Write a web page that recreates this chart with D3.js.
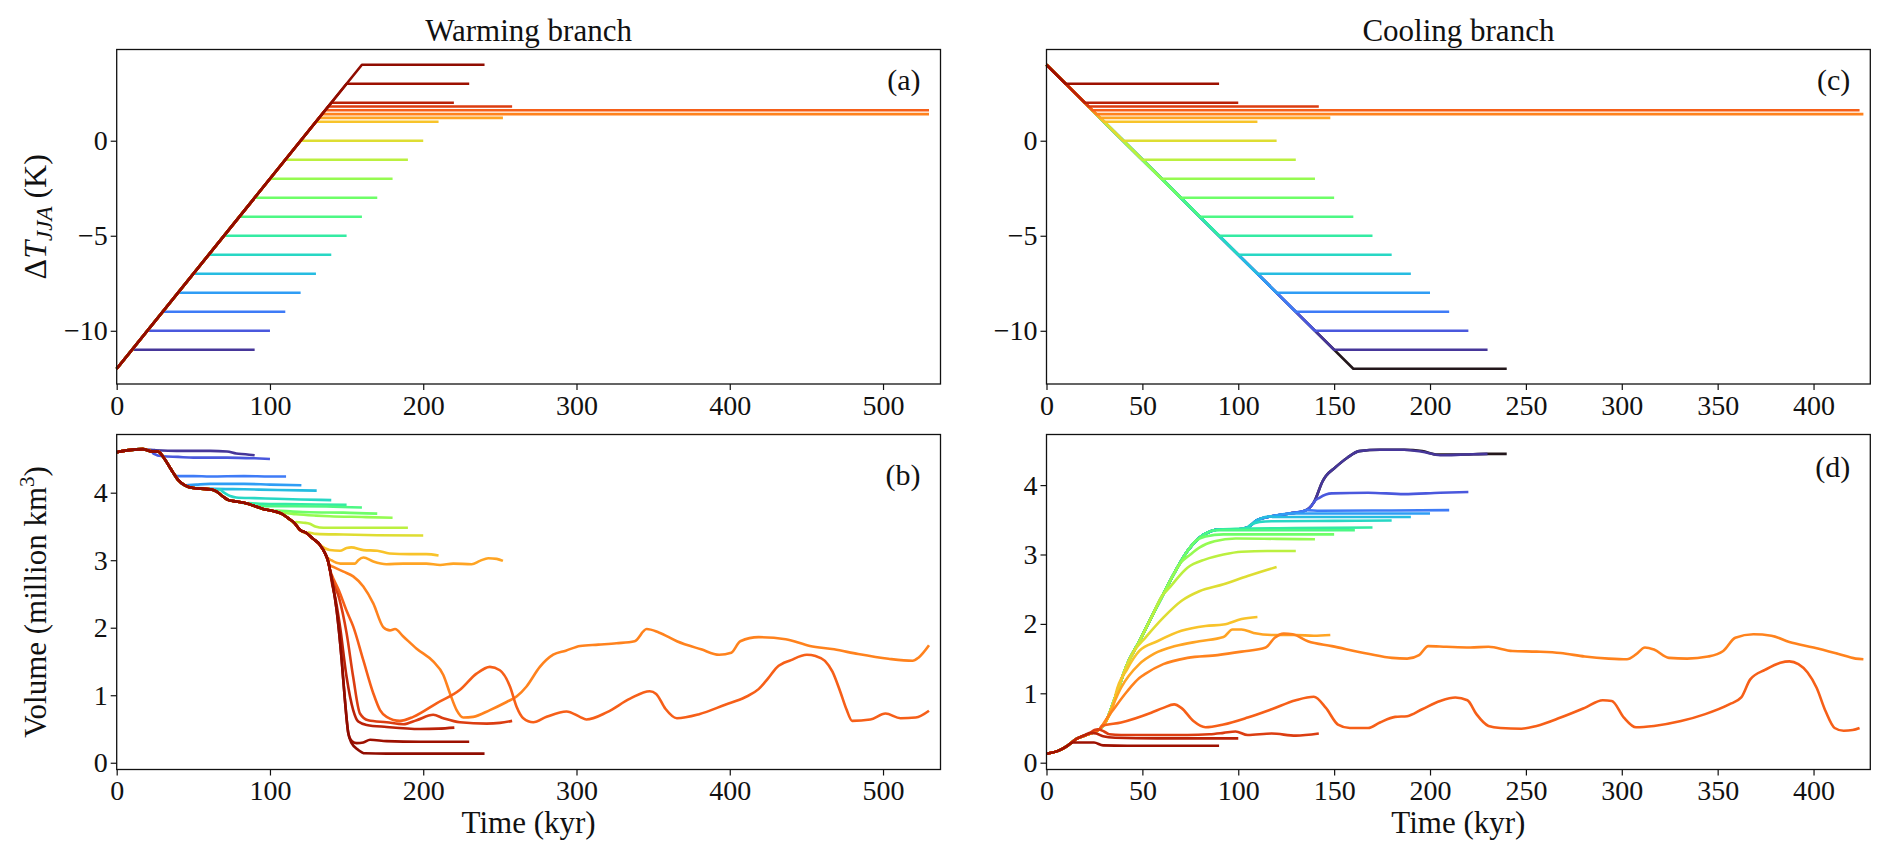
<!DOCTYPE html>
<html>
<head>
<meta charset="utf-8">
<script src="https://cdn.jsdelivr.net/npm/d3@7"></script>
<style>
  body { margin: 0; background: #fff; }
  svg text { font-family: "Liberation Serif", "DejaVu Serif", serif; fill: #111; }
  .tick text { font-size: 28px; }
  .tick line { stroke: #111; stroke-width: 1.2; }
</style>
</head>
<body>
<svg id="chart" width="1892" height="862"></svg>
<script>
// forcing levels (K), start and end of each plateau (kyr)
const warmRamp0 = -12;
const warmLevels = [-11, -10, -9, -8, -7, -6, -5, -4, -3, -2, -1, 0, 1, 1.2, 1.4, 1.6, 1.8, 2, 3, 4];
const warmStart  = [10, 20, 30, 40, 50, 60, 70, 80, 90, 100, 110, 120, 130, 132, 134, 136, 138, 140, 150, 160];
const warmEnd    = [90, 100, 110, 120, 130, 140, 150, 160, 170, 180, 190, 200, 210, 252, 530, 530, 258, 220, 230, 240];

const coolRamp0 = 4;
const coolLevels = [3, 2, 1.8, 1.6, 1.4, 1.2, 1, 0, -1, -2, -3, -4, -5, -6, -7, -8, -9, -10, -11, -12];
const coolStart  = [10, 20, 22, 24, 26, 28, 30, 40, 50, 60, 70, 80, 90, 100, 110, 120, 130, 140, 150, 160];
const coolEnd    = [90, 100, 142, 424, 426, 148, 110, 120, 130, 140, 150, 160, 170, 180, 190, 200, 210, 220, 230, 240];

// every level used for the colour map, low to high
const colorLevels = [-12, -11, -10, -9, -8, -7, -6, -5, -4, -3, -2, -1, 0, 1, 1.2, 1.4, 1.6, 1.8, 2, 3, 4];

// ice volume (million km3): shared path of the warming runs (the +4 K run)
const warmTrunk = [[0,4.60],[8,4.63],[17,4.645],[23,4.61],[27,4.61],[30,4.54],[33.5,4.42],[37,4.29],[40,4.19],
  [44.5,4.11],[50,4.07],[55,4.06],[61,4.05],[65,4.02],[69.5,3.94],[73,3.89],[78,3.87],[85,3.84],[89,3.81],
  [95.5,3.76],[102,3.73],[107.5,3.69],[112,3.62],[116,3.55],[119.5,3.45],[124,3.40],[128,3.32],[132.5,3.23],
  [136,3.10],[138,2.98],[139.2,2.85],[140.5,2.70],[143.5,2.26],[146.8,1.52],[148.9,0.93],[151.1,0.44],
  [153.3,0.29],[157.6,0.19],[162,0.14],[176,0.135],[200,0.135],[240,0.135]];

// where each warming run leaves the shared path, same order as warmLevels
const warmBranch = [
  [[17,4.64],[25,4.63],[39,4.62],[61,4.62],[72,4.61],[78,4.58],[84,4.57],[90,4.555]],
  [[24,4.58],[30,4.54],[40,4.53],[50,4.52],[72,4.52],[90,4.51],[100,4.50]],
  [[39,4.245],[50,4.245],[61,4.24],[83,4.245],[100,4.24],[110.5,4.24]],
  [[45,4.11],[52,4.12],[61,4.13],[83,4.13],[100,4.12],[120.5,4.11]],
  [[52,4.07],[61,4.06],[83,4.05],[105,4.04],[130.5,4.03]],
  [[67,4.05],[70,4.0],[74,3.95],[78,3.93],[90,3.92],[104,3.91],[120,3.90],[140,3.89]],
  [[86,3.845],[95,3.835],[110,3.83],[130,3.825],[150,3.82]],
  [[92,3.80],[100,3.80],[115,3.80],[137,3.795],[160,3.78]],
  [[104,3.735],[115,3.72],[126,3.71],[148,3.705],[170,3.69]],
  [[109,3.70],[117,3.68],[130,3.66],[139,3.65],[160,3.64],[180,3.63]],
  [[117,3.565],[122,3.555],[126,3.54],[129.5,3.50],[135,3.48],[150,3.48],[170,3.48],[190,3.48]],
  [[125,3.41],[130,3.39],[148,3.38],[170,3.37],[200,3.365]],
  [[133,3.22],[139,3.15],[145.7,3.14],[150,3.18],[153,3.19],[161,3.15],[170,3.14],[178,3.10],[191,3.09],[202,3.09],[210,3.07]],
  [[137,3.05],[140,3.0],[146,2.95],[155.5,2.95],[157.6,3.0],[161,3.04],[167.4,2.98],[176,2.94],[187,2.95],[196,2.95],
   [202,2.95],[211,2.93],[219.6,2.95],[231.6,2.94],[237,2.99],[242.4,3.03],[248,3.02],[252,2.99]],
  [[139,2.93],[141.3,2.90],[148,2.83],[154.3,2.76],[160.9,2.61],[167.4,2.36],[173.9,2.01],[178.3,1.96],[181.6,1.98],
   [187,1.87],[195.7,1.69],[206.5,1.50],[213.1,1.30],[217.4,1.03],[221.8,0.78],[226.1,0.67],[232.6,0.68],[243.5,0.78],
   [254.4,0.90],[260.9,0.98],[267.4,1.13],[276.1,1.42],[284.8,1.60],[293,1.66],[302.4,1.73],[314.3,1.75],[326.1,1.77],
   [337.9,1.80],[345.8,1.98],[353.7,1.93],[365.5,1.80],[381.3,1.68],[393.1,1.60],[401,1.63],[406.9,1.80],[418.8,1.86],
   [436.5,1.83],[452.3,1.73],[468.1,1.68],[483.8,1.61],[503.5,1.54],[519.3,1.51],[523.3,1.56],[530,1.74]],
  [[140,2.80],[145,2.55],[150,2.25],[154.3,2.02],[160.9,1.52],[167.4,1.03],[171.8,0.78],[176.1,0.68],[184.8,0.62],
   [193.5,0.68],[208.7,0.88],[224,1.08],[234.8,1.32],[243.5,1.42],[250,1.37],[256.6,1.13],[260.9,0.83],[265.3,0.66],
   [271.8,0.60],[280.5,0.68],[293.5,0.76],[302.2,0.68],[306.4,0.64],[320,0.75],[335,0.95],[347.8,1.06],[352,1.02],
   [358,0.80],[365.5,0.66],[380,0.72],[397,0.86],[410,0.97],[418.8,1.09],[425,1.25],[430.6,1.41],[440,1.52],
   [450.3,1.60],[456,1.58],[462.1,1.51],[467,1.35],[472,1.06],[476,0.80],[479.9,0.62],[491.7,0.64],[501.6,0.73],
   [511.4,0.66],[521.3,0.67],[530,0.77]],
  [[140,2.76],[145,2.45],[150,1.92],[154.3,1.27],[158.7,0.73],[164.1,0.63],[176.1,0.60],[187,0.57],[195.7,0.63],
   [206.5,0.71],[213.1,0.66],[224,0.60],[241.4,0.58],[250,0.59],[258,0.62]],
  [[140,2.72],[143,2.40],[145.7,2.02],[150,1.27],[154.3,0.78],[157.6,0.61],[163.1,0.56],[176.1,0.53],[197.9,0.50],
   [210,0.505],[220.3,0.52]],
  [[152,0.37],[153.5,0.32],[156.6,0.29],[160.9,0.30],[165.3,0.34],[176.1,0.32],[197.9,0.31],[230,0.31]],
  []
];

// shared path of the cooling runs (the -12 K run)
const coolTrunk = [[0,0.13],[6,0.17],[10.7,0.24],[15.4,0.34],[21.7,0.41],[27.9,0.49],[31.1,0.60],[35.8,0.94],
  [42.1,1.42],[48.4,1.75],[54.6,2.09],[60.9,2.43],[67.2,2.76],[73.5,3.05],[79.7,3.24],[86,3.34],[90.7,3.36],
  [98.6,3.36],[104.9,3.39],[109.6,3.49],[117.4,3.55],[126.8,3.59],[134.7,3.63],[139.4,3.75],[144.1,4.06],
  [145.7,4.13],[150.4,4.25],[156.7,4.39],[163,4.49],[173.9,4.51],[186.5,4.51],[195.9,4.49],[203.8,4.44],
  [214.8,4.44],[230.5,4.45],[240,4.45]];

// same order as coolLevels
const coolBranch = [
  [[13.8,0.29],[20.1,0.29],[24.8,0.29],[29.5,0.25],[42.1,0.245],[60,0.245],[90,0.245]],
  [[20,0.40],[23.2,0.43],[26,0.42],[29.5,0.38],[35.8,0.36],[57.8,0.35],[80,0.35],[100,0.35]],
  [[25,0.47],[27,0.48],[30,0.45],[32.7,0.41],[38.9,0.40],[73.5,0.40],[85,0.41],[92.3,0.43],[98.6,0.45],
   [104.9,0.40],[117.4,0.42],[130,0.39],[142,0.42]],
  [[28.9,0.53],[38.9,0.58],[54.6,0.72],[60.9,0.79],[66.6,0.84],[70.3,0.79],[76.6,0.60],[82.9,0.51],[92.3,0.55],
   [104.9,0.65],[117.4,0.77],[130,0.90],[139.4,0.95],[145.7,0.79],[152,0.55],[158.2,0.50],[167.7,0.50],[173.9,0.58],
   [181.8,0.66],[188.1,0.67],[195.9,0.77],[205.3,0.89],[213.2,0.94],[219.5,0.90],[224.2,0.70],[230.5,0.53],
   [236.7,0.50],[247.7,0.49],[255.6,0.53],[268.1,0.65],[280.7,0.79],[290.1,0.90],[294.8,0.89],[301.1,0.65],
   [307.4,0.51],[316.8,0.53],[330.9,0.60],[343.5,0.70],[356,0.84],[362.3,0.94],[367,1.20],[374.9,1.34],
   [382.7,1.44],[387.4,1.46],[392.1,1.42],[396.9,1.30],[401.6,1.08],[406.3,0.74],[411,0.50],[415.7,0.46],
   [420.4,0.47],[424,0.50]],
  [[31,0.62],[34.2,0.74],[42.1,1.03],[48.4,1.22],[51.5,1.28],[60.9,1.42],[73.5,1.51],[89.2,1.55],[101.7,1.60],
   [114.3,1.66],[119,1.80],[123.7,1.86],[128.4,1.85],[136.3,1.75],[148.8,1.68],[167.7,1.57],[180.2,1.51],
   [188.1,1.50],[194.3,1.55],[199.1,1.68],[208.5,1.67],[221,1.66],[230.5,1.67],[243,1.61],[255.6,1.60],
   [268.1,1.58],[280.7,1.53],[293.2,1.50],[302.7,1.49],[307.4,1.56],[312.1,1.66],[316.8,1.63],[324.6,1.51],
   [334.1,1.50],[345,1.53],[352.9,1.61],[359.2,1.80],[368.6,1.85],[378,1.83],[387.4,1.74],[400,1.66],
   [412.6,1.57],[422,1.50],[426,1.49]],
  [[32.7,0.70],[38.9,1.08],[48.4,1.42],[56.2,1.57],[67.2,1.68],[79.7,1.75],[92.3,1.81],[97,1.92],[101.7,1.92],
   [108,1.87],[117.4,1.84],[130,1.84],[139.4,1.83],[148,1.84]],
  [[36,0.98],[42.1,1.35],[48.4,1.61],[57.8,1.75],[70.3,1.90],[82.9,1.97],[92.3,1.99],[101.7,2.07],[110,2.10]],
  [[46,1.62],[51.5,1.80],[60.9,2.09],[70.3,2.33],[79.7,2.47],[92.3,2.57],[104.9,2.69],[120,2.82]],
  [[62,2.46],[64,2.52],[73.5,2.81],[82.9,2.93],[92.3,3.00],[101.7,3.04],[115,3.05],[130,3.05]],
  [[70,2.88],[75,3.0],[79.7,3.10],[87.6,3.19],[98.6,3.23],[120,3.225],[140,3.22]],
  [[78,3.2],[82.9,3.26],[92.3,3.29],[120,3.29],[150,3.29]],
  [[87,3.345],[89.2,3.35],[120,3.35],[160.8,3.35]],
  [[98.6,3.37],[130,3.38],[170,3.39]],
  [[106,3.42],[111.1,3.47],[117.4,3.48],[150,3.485],[180,3.49]],
  [[118,3.54],[121,3.54],[150,3.54],[190,3.54]],
  [[126.8,3.59],[140,3.59],[170,3.59],[200,3.59]],
  [[136,3.64],[142.5,3.63],[180,3.635],[210,3.64]],
  [[139.6,3.76],[142.5,3.82],[148.8,3.88],[167.7,3.89],[186.5,3.87],[205.3,3.89],[220,3.90]],
  [[186.5,4.51],[195.9,4.48],[205.3,4.43],[217.9,4.44],[230,4.45]],
  []
];

const svg = d3.select("#chart");
const colorOf = T => d3.interpolateTurbo(colorLevels.indexOf(T) / (colorLevels.length - 1));

function runSeries(trunk, own) {
  if (!own.length) return trunk;
  const t0 = own[0][0];
  return trunk.filter(d => d[0] < t0).concat(own);
}

function panel(box, xDomain, yDomain, xTicks, yTicks, tag, tagDy) {
  const x = d3.scaleLinear().domain(xDomain).range([box.left, box.right]);
  const y = d3.scaleLinear().domain(yDomain).range([box.bottom, box.top]);
  const g = svg.append("g");
  g.append("g")
    .attr("transform", `translate(0,${box.bottom})`)
    .call(d3.axisBottom(x).tickValues(xTicks).tickFormat(d3.format("d"))
      .tickSize(6).tickPadding(5).tickSizeOuter(0))
    .call(a => a.select(".domain").remove());
  g.append("g")
    .attr("transform", `translate(${box.left},0)`)
    .call(d3.axisLeft(y).tickValues(yTicks).tickFormat(d3.format("d"))
      .tickSize(6).tickPadding(3).tickSizeOuter(0))
    .call(a => a.select(".domain").remove());
  const plot = g.append("g");
  g.append("rect")
    .attr("x", box.left).attr("y", box.top)
    .attr("width", box.right - box.left).attr("height", box.bottom - box.top)
    .attr("fill", "none").attr("stroke", "#111").attr("stroke-width", 1.3);
  g.append("text")
    .attr("x", box.right - 20).attr("y", box.top + tagDy)
    .attr("text-anchor", "end").attr("font-size", 30)
    .text(tag);
  return { x, y, plot };
}

const boxA = { left: 116.7, right: 940.5, top: 49.5, bottom: 384 };
const boxB = { left: 116.7, right: 940.5, top: 434.5, bottom: 769.5 };
const boxC = { left: 1046.5, right: 1870.3, top: 49.5, bottom: 384 };
const boxD = { left: 1046.5, right: 1870.3, top: 434.5, bottom: 769.5 };

const warmTicks = [0, 100, 200, 300, 400, 500];
const coolTicks = [0, 50, 100, 150, 200, 250, 300, 350, 400];
const tempTicks = [-10, -5, 0];
const volTicks = [0, 1, 2, 3, 4];

const pA = panel(boxA, [0, 537.5], [-12.8, 4.8], warmTicks, tempTicks, "(a)", 40);
const pB = panel(boxB, [0, 537.5], [-0.10, 4.862], warmTicks, volTicks, "(b)", 50);
const pC = panel(boxC, [0, 429.6], [-12.8, 4.8], coolTicks, tempTicks, "(c)", 40);
const pD = panel(boxD, [0, 429.6], [-0.098, 4.729], coolTicks, volTicks, "(d)", 42);

function drawRuns(p, levels, starts, ends, ramp0) {
  const line = d3.line().x(d => p.x(d[0])).y(d => p.y(d[1]));
  const order = d3.range(levels.length).sort((a, b) => levels[a] - levels[b]);
  order.forEach(i => {
    p.plot.append("path")
      .attr("d", line([[0, ramp0], [starts[i], levels[i]], [ends[i], levels[i]]]))
      .attr("fill", "none").attr("stroke", colorOf(levels[i]))
      .attr("stroke-width", 2.6).attr("stroke-linejoin", "round");
  });
}

function drawVolumes(p, levels, trunk, branches) {
  const line = d3.line().curve(d3.curveMonotoneX).x(d => p.x(d[0])).y(d => p.y(d[1]));
  const order = d3.range(levels.length).sort((a, b) => levels[a] - levels[b]);
  order.forEach(i => {
    p.plot.append("path")
      .attr("d", line(runSeries(trunk, branches[i])))
      .attr("fill", "none").attr("stroke", colorOf(levels[i]))
      .attr("stroke-width", 2.6).attr("stroke-linejoin", "round");
  });
}

drawRuns(pA, warmLevels, warmStart, warmEnd, warmRamp0);
drawRuns(pC, coolLevels, coolStart, coolEnd, coolRamp0);
drawVolumes(pB, warmLevels, warmTrunk, warmBranch);
drawVolumes(pD, coolLevels, coolTrunk, coolBranch);

// titles and axis labels
svg.append("text").attr("x", (boxA.left + boxA.right) / 2).attr("y", 41)
  .attr("text-anchor", "middle").attr("font-size", 31).text("Warming branch");
svg.append("text").attr("x", (boxC.left + boxC.right) / 2).attr("y", 41)
  .attr("text-anchor", "middle").attr("font-size", 31).text("Cooling branch");

[boxB, boxD].forEach(b => {
  svg.append("text").attr("x", (b.left + b.right) / 2).attr("y", 833)
    .attr("text-anchor", "middle").attr("font-size", 31).text("Time (kyr)");
});

const yLabA = svg.append("text")
  .attr("transform", `translate(46,${(boxA.top + boxA.bottom) / 2}) rotate(-90)`)
  .attr("text-anchor", "middle").attr("font-size", 32);
yLabA.append("tspan").text("Δ");
yLabA.append("tspan").attr("font-style", "italic").text("T");
yLabA.append("tspan").attr("font-style", "italic").attr("font-size", 23).attr("dy", 6).text("JJA");
yLabA.append("tspan").attr("dy", -6).text(" (K)");

const yLabB = svg.append("text")
  .attr("transform", `translate(46,${(boxB.top + boxB.bottom) / 2}) rotate(-90)`)
  .attr("text-anchor", "middle").attr("font-size", 31);
yLabB.append("tspan").text("Volume (million km");
yLabB.append("tspan").attr("font-size", 21).attr("dy", -12).text("3");
yLabB.append("tspan").attr("dy", 12).text(")");
</script>
</body>
</html>
